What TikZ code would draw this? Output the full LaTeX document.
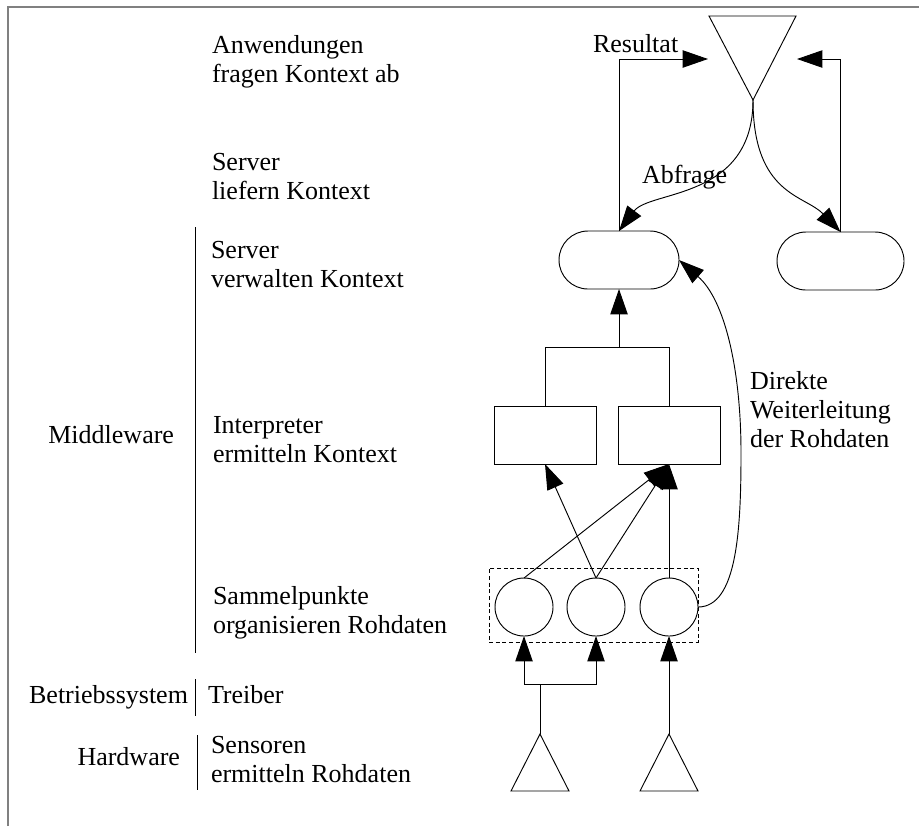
\documentclass[tikz,border=0pt]{standalone}
\usepackage{fontspec}
\setmainfont{Liberation Serif}
\usetikzlibrary{arrows.meta,shapes.misc}

\begin{document}
\begin{tikzpicture}[x=0.75pt,y=-0.75pt,
  line width=0.7pt,
  every node/.style={inner sep=0pt, outer sep=0pt},
  txt/.style={font=\fontsize{19.5pt}{21.75pt}\selectfont, align=left, anchor=base west},
  txtr/.style={font=\fontsize{19.5pt}{21.75pt}\selectfont, anchor=base east},
  arr/.style={-{Triangle[length=19pt,width=13pt]}},
  serverbox/.style={draw, rounded rectangle, minimum height=43.5pt},
  interpbox/.style={draw, rectangle, minimum width=76.5pt, minimum height=43.5pt},
  collector/.style={draw, circle, minimum size=43.5pt},
  groupbox/.style={draw, dash pattern=on 3pt off 2pt, line width=0.6pt, rectangle},
  framestroke/.style={draw=black!50, line width=0.8pt}]

\useasboundingbox (0,0) rectangle (919,826);

% outer frame (top and left edge)
\draw[framestroke] (8,826) -- (8,7) -- (919,7);

% layer descriptions (anchored at the baseline of their last line)
\node[txt] (lApp)    at (212,82)  {Anwendungen\\fragen Kontext ab};
\node[txt] (lLief)   at (212,199) {Server\\liefern Kontext};
\node[txt] (lVerw)   at (211,287) {Server\\verwalten Kontext};
\node[txt] (lInterp) at (213,462) {Interpreter\\ermitteln Kontext};
\node[txt] (lSammel) at (213,633) {Sammelpunkte\\organisieren Rohdaten};
\node[txt] (lTreib)  at (208,703) {Treiber};
\node[txt] (lSens)   at (211,782) {Sensoren\\ermitteln Rohdaten};

\node[txtr] (lMw) at (174,443) {Middleware};
\node[txtr] (lBs) at (188,703) {Betriebssystem};
\node[txtr] (lHw) at (180,765) {Hardware};

% layer separators
\draw (195,227) -- (195,653);
\draw (195,679) -- (195,716);
\draw (197,735) -- (197,790);

% application (inverted triangle)
\coordinate (appTip) at (753,100);
\draw (709,16) -- (796,16) -- (appTip) -- cycle;
\coordinate (resIn)  at (708,59);
\coordinate (resIn2) at (797,59);

% servers
\node[serverbox, minimum width=90pt]    (s1) at (619,260) {};
\node[serverbox, minimum width=95.25pt] (s2) at (840.5,261) {};

% interpreters
\node[interpbox] (b1) at (545,435) {};
\node[interpbox] (b2) at (669,435) {};

% collectors
\node[groupbox, minimum width=156.75pt, minimum height=55.5pt] (grp) at (593.5,605) {};
\node[collector] (c1) at (524,607) {};
\node[collector] (c2) at (596,607) {};
\node[collector] (c3) at (669,607) {};

% sensors
\coordinate (t1) at (540,734);
\coordinate (t2) at (669,734);
\draw (t1) -- (511,791) -- (569,791) -- cycle;
\draw (t2) -- (640,791) -- (698,791) -- cycle;

% sensors -> collectors
\coordinate (t1j) at (540,684);
\draw (t1) -- (t1j);
\draw[arr] (t1j) -| (c1.south);
\draw[arr] (t1j) -| (c2.south);
\draw[arr] (t2) -- (c3.south);

% collectors -> interpreters
\draw[arr] (c2.north) -- (b1.south);
\draw[arr] (c1.north) -- (b2.south);
\draw[arr] (c2.north) -- (b2.south);
\draw[arr] (c3.north) -- (b2.south);

% interpreters -> server
\coordinate (tj) at (619,347);
\draw (b1.north) |- (tj) -| (b2.north);
\draw[arr] (tj) -- (s1.south);

% direct forwarding of raw data
\draw[arr] (c3.east) .. controls (737,607) and (741,530) .. (741,453)
  .. controls (741,370) and (725,300) .. (s1.east);
\node[txt] (lDirekt) at (750,447) {Direkte\\Weiterleitung\\der Rohdaten};

% query and result
\draw[arr] (appTip) .. controls (753,200) and (650,190) .. (s1.north);
\draw[arr] (appTip) .. controls (753,195) and (805,195) .. (s2.north);
\draw[arr] (s1.north) |- (resIn);
\draw[arr] (s2.north) |- (resIn2);
\node[txt] (lRes) at (593,52)  {Resultat};
\node[txt] (lAbf) at (642,183) {Abfrage};

\end{tikzpicture}
\end{document}
